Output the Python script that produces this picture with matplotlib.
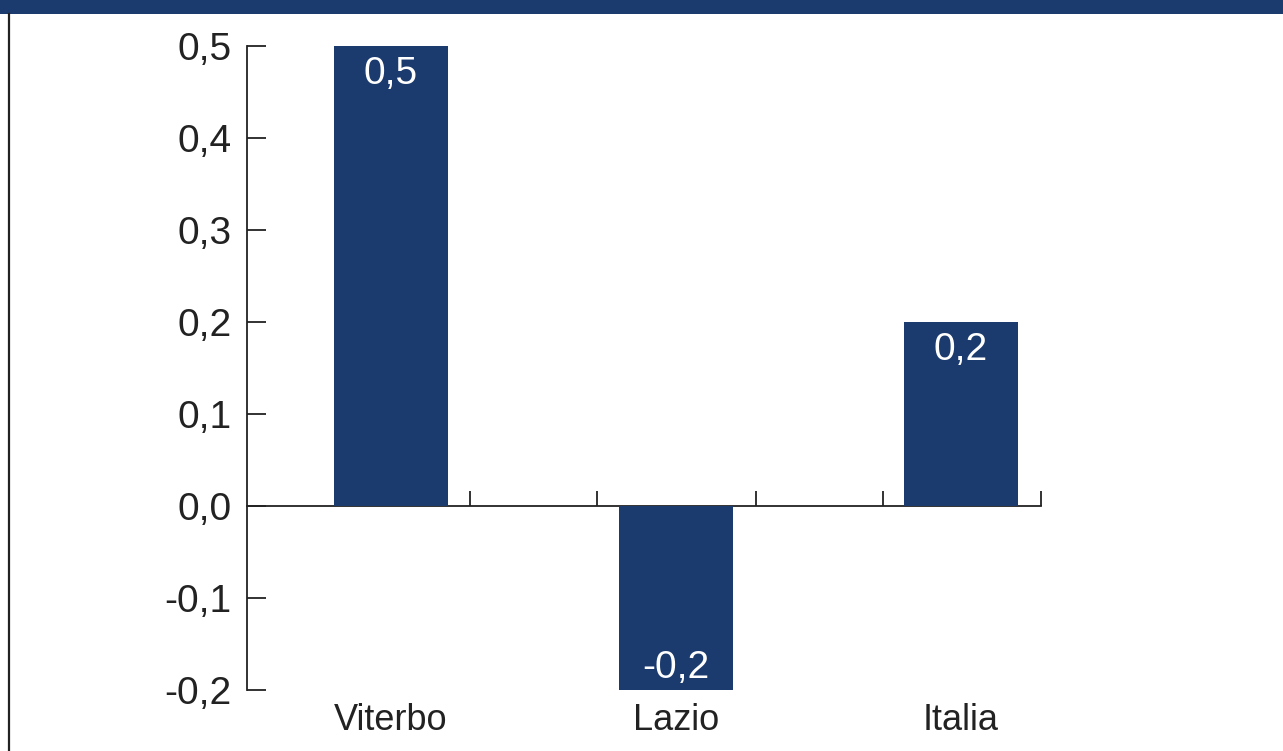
import numpy as np
import matplotlib.pyplot as plt
from matplotlib.patches import Rectangle
from matplotlib.lines import Line2D

plt.rcParams['font.family'] = ['Liberation Sans', 'DejaVu Sans']

categories = ['Viterbo', 'Lazio', 'Italia']
values = [0.5, -0.2, 0.2]
value_labels = ['0,5', '-0,2', '0,2']
y_ticks = [-0.2, -0.1, 0.0, 0.1, 0.2, 0.3, 0.4, 0.5]
y_tick_labels = ['-0,2', '-0,1', '0,0', '0,1', '0,2', '0,3', '0,4', '0,5']
x_marks = [0.277, 0.723, 1.281, 1.726, 2.281]

navy = '#1b3a6e'
ink = '#222222'
W, H = 1283, 751

fig = plt.figure(figsize=(W / 100, H / 100), dpi=100)
fig.patch.set_facecolor('white')

# header band and left frame line
fig.patches.append(Rectangle((0, 1 - 14 / H), 1, 14 / H, transform=fig.transFigure,
                             facecolor=navy, edgecolor='none'))
fig.lines.append(Line2D([8.5 / W, 8.5 / W], [0, 1 - 14 / H], transform=fig.transFigure,
                        color=ink, lw=1.6))

left, right, top, bottom = 247, 1041, 46, 690
ax = fig.add_axes([left / W, 1 - bottom / H, (right - left) / W, (bottom - top) / H])
ax.set_xlim(-0.505, 2.281)
ax.set_ylim(-0.2, 0.5)

x = np.arange(len(categories))
ax.bar(x, values, width=0.4, color=navy, zorder=2)

for xi, v, lab in zip(x, values, value_labels):
    off = -7 if v > 0 else 3
    ax.annotate(lab, (xi, v), xytext=(0, off), textcoords='offset points',
                ha='center', va='top' if v > 0 else 'bottom',
                color='white', fontsize=28, zorder=3)

for xi, name in zip(x, categories):
    ax.annotate(name, (xi, -0.2), xytext=(0, -9), textcoords='offset points',
                ha='center', va='top', color=ink, fontsize=26,
                annotation_clip=False)

for s in ['top', 'right']:
    ax.spines[s].set_visible(False)
ax.spines['left'].set_color(ink)
ax.spines['left'].set_linewidth(1.3)
ax.spines['bottom'].set_position(('data', 0))
ax.spines['bottom'].set_color(ink)
ax.spines['bottom'].set_linewidth(1.3)
ax.spines['bottom'].set_zorder(1)

ax.set_yticks(y_ticks)
ax.set_yticklabels(y_tick_labels)
ax.tick_params(axis='y', direction='in', length=13.7, width=1.3, color=ink,
               labelsize=28, labelcolor=ink, pad=11)
ax.set_xticks(x_marks)
ax.set_xticklabels([])
ax.tick_params(axis='x', direction='in', length=10.8, width=1.3, color=ink)
ax.patch.set_alpha(0)

fig.savefig('out.png', dpi=100)
